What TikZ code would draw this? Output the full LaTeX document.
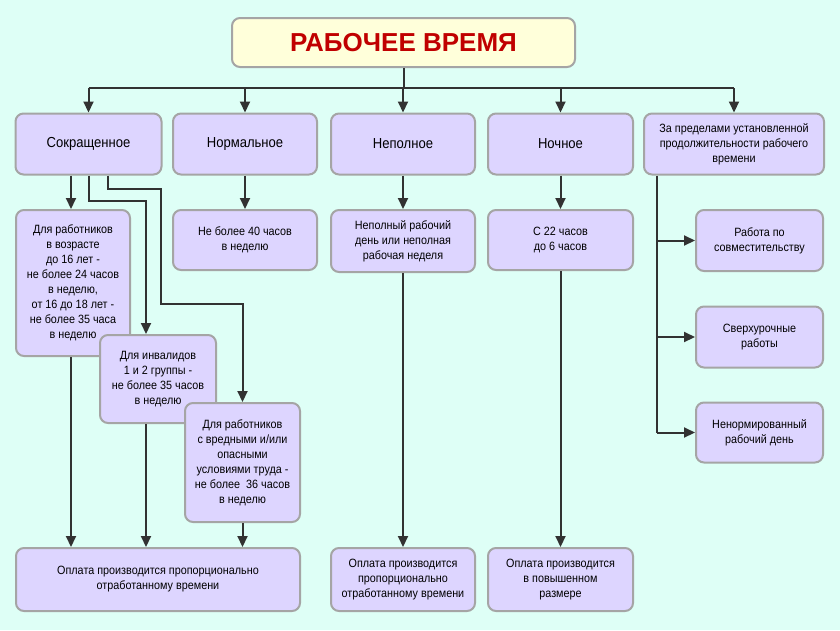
\documentclass[tikz,border=0pt]{standalone}
\usepackage{fontspec}
\usepackage{tikz}
\setmainfont{Liberation Sans}
\newfontfamily\narrowfont[FakeStretch=0.9]{Liberation Sans}
\definecolor{backbg}{RGB}{222, 255, 246}
\definecolor{boxfill}{RGB}{221, 213, 255}
\definecolor{boxline}{RGB}{165, 165, 165}
\definecolor{titlefill}{RGB}{255, 255, 218}
\definecolor{titletext}{RGB}{192, 0, 0}
\definecolor{linkcol}{RGB}{50, 50, 50}
\usetikzlibrary{arrows.meta, positioning, calc}

\begin{document}
\begin{tikzpicture}[x=1pt, y=-1pt,
    box/.style={draw=boxline, fill=boxfill, line width=2pt, rounded corners=8pt,
                align=center, inner sep=2pt, font=\narrowfont\fontsize{12}{15}\selectfont},
    headbox/.style={box, font=\narrowfont\fontsize{14.5}{17}\selectfont},
    link/.style={draw=linkcol, line width=2pt},
    arr/.style={link, -{Triangle[length=11pt, width=10pt]}}]

    % background and frame
    \fill[backbg] (0,0) rectangle (840,630);
    \useasboundingbox (0,0) rectangle (840,630);

    % title
    \node[draw=boxline, fill=titlefill, line width=2pt, rounded corners=8pt,
          minimum width=343pt, minimum height=49pt,
          font=\bfseries\fontsize{26}{29}\selectfont, text=titletext]
          (title) at (403.5,42.5) {РАБОЧЕЕ ВРЕМЯ};

    % first row
    \node[headbox, minimum width=146pt, minimum height=61pt] (short) at (88.5,144) {Сокращенное};
    \node[headbox, minimum width=144pt, minimum height=61pt] (norm) at (245,144) {Нормальное};
    \node[headbox, minimum width=144pt, minimum height=61pt] (part) at (403,144) {Неполное};
    \node[headbox, minimum width=145pt, minimum height=61pt] (night) at (560.5,144) {Ночное};
    \node[box, minimum width=180pt, minimum height=61pt] (over) at (734,144)
        {За пределами установленной\\продолжительности рабочего\\времени};

    % second row
    \node[box, minimum width=114pt, minimum height=146pt] (kids) at (73,283)
        {Для работников\\в возрасте\\до 16 лет -\\не более 24 часов\\в неделю,\\от 16 до 18 лет -\\не более 35 часа\\в неделю};
    \node[box, minimum width=144pt, minimum height=60pt] (week) at (245,240)
        {Не более 40 часов\\в неделю};
    \node[box, minimum width=144pt, minimum height=62pt] (partday) at (403,241)
        {Неполный рабочий\\день или неполная\\рабочая неделя};
    \node[box, minimum width=145pt, minimum height=60pt] (hours) at (560.5,240)
        {С 22 часов\\до 6 часов};
    \node[box, minimum width=116pt, minimum height=88pt] (inv) at (158,379)
        {Для инвалидов\\1 и 2 группы -\\не более 35 часов\\в неделю};
    \node[box, minimum width=115pt, minimum height=119pt] (harm) at (242.5,462.5)
        {Для работников\\с вредными и/или\\опасными\\условиями труда -\\не более \ 36 часов\\в неделю};

    % right column
    \node[box, minimum width=127pt, minimum height=61pt] (dual) at (759.5,240.5)
        {Работа по\\совместительству};
    \node[box, minimum width=127pt, minimum height=61pt] (extra) at (759.5,337)
        {Сверхурочные\\работы};
    \node[box, minimum width=127pt, minimum height=60pt] (irreg) at (759.5,432.5)
        {Ненормированный\\рабочий день};

    % payment
    \node[box, minimum width=284pt, minimum height=63pt] (pay1) at (158,579.5)
        {Оплата производится пропорционально\\отработанному времени};
    \node[box, minimum width=144pt, minimum height=63pt] (pay2) at (403,579.5)
        {Оплата производится\\пропорционально\\отработанному времени};
    \node[box, minimum width=145pt, minimum height=63pt] (pay3) at (560.5,579.5)
        {Оплата производится\\в повышенном\\размере};

    % bus from the title
    \draw[link] (title.south) -- ++(0,20) coordinate (bus);
    \draw[link] (short.north |- bus) -- (over.north |- bus);
    \foreach \n in {short,norm,part,night,over}
        \draw[arr] (\n.north |- bus) -- (\n.north);

    % links below the first row
    \coordinate (kidsin) at ([xshift=-2pt]kids.north);
    \draw[arr] (kidsin |- short.south) -- (kidsin);
    \draw[arr] (short.south) -- ++(0,25) -| ([xshift=-12pt]inv.north);
    \draw[arr] ([xshift=19pt]short.south) -- ++(0,13) -- ++(53,0) -- ++(0,115)
        -| (harm.north);
    \draw[arr] (norm.south) -- (week.north);
    \draw[arr] (part.south) -- (partday.north);
    \draw[arr] (night.south) -- (hours.north);

    % links to payment
    \coordinate (kidsout) at ([xshift=-2pt]kids.south);
    \coordinate (invout) at ([xshift=-12pt]inv.south);
    \draw[arr] (kidsout) -- (kidsout |- pay1.north);
    \draw[arr] (invout) -- (invout |- pay1.north);
    \draw[arr] (harm.south) -- (harm.south |- pay1.north);
    \draw[arr] (partday.south) -- (pay2.north);
    \draw[arr] (hours.south) -- (pay3.north);

    % spine on the right
    \coordinate (spine) at ([xshift=14pt]over.south west);
    \draw[link] (spine) -- (spine |- irreg.west);
    \foreach \n in {dual,extra,irreg}
        \draw[arr] (spine |- \n.west) -- (\n.west);
\end{tikzpicture}
\end{document}
